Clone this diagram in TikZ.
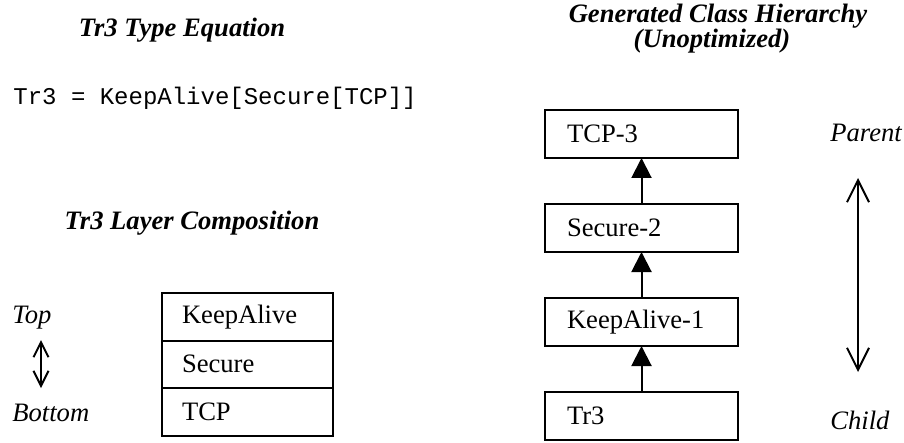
\documentclass[tikz,border=0pt]{standalone}
\usepackage{fontspec}
\setmainfont{Liberation Serif}
\setmonofont{Liberation Mono}
\usetikzlibrary{positioning,arrows.meta}

\tikzset{
  every node/.style={font=\fontsize{13.3}{16}\selectfont},
  heading/.style={font=\fontsize{13.3}{16}\selectfont\bfseries\itshape},
  side/.style={font=\fontsize{13.3}{16}\selectfont\itshape, anchor=west, inner sep=0pt},
  layerbox/.style={draw, line width=1pt, outer sep=0pt, minimum height=23.75pt,
    text width=65.5pt, inner xsep=10pt, align=left},
  classbox/.style={draw, line width=1pt, outer sep=0pt, minimum height=24pt,
    text width=74.5pt, inner xsep=11pt, align=left},
  inherit/.style={line width=1pt, -{Triangle[width=10pt,length=10pt]}},
  updown/.style={line width=1pt, {Straight Barb[width=11pt,length=11pt]}-{Straight Barb[width=11pt,length=11pt]}},
  smallupdown/.style={line width=1pt, {Straight Barb[width=7.5pt,length=7.5pt]}-{Straight Barb[width=7.5pt,length=7.5pt]}}
}

\begin{document}
\begin{tikzpicture}[x=0.5pt,y=-0.5pt]
    \useasboundingbox (0,0) rectangle (904,443);

    % type equation
    \node[heading] (eqtitle) at (182,30) {Tr3 Type Equation};
    \node[anchor=west, inner sep=0pt, font=\ttfamily\fontsize{12}{14}\selectfont] (eq) at (13,98) {Tr3 = KeepAlive[Secure[TCP]]};

    % layer composition
    \node[heading] (laytitle) at (192,223) {Tr3 Layer Composition};
    \node[layerbox, anchor=north west] (lkeep) at (162,293) {KeepAlive};
    \node[layerbox, below=0pt of lkeep] (lsec) {Secure};
    \node[layerbox, below=0pt of lsec] (ltcp) {TCP};

    \node[side] (top) at (12,318) {Top};
    \node[side] (bottom) at (12,413) {Bottom};
    \coordinate (tarr) at (41,340);
    \coordinate (barr) at (41,388);
    \draw[smallupdown] (tarr) -- (barr);

    % class hierarchy
    \node[heading] (hiertitle) at (718,16) {Generated Class Hierarchy};
    \node[heading] (hiersub) at (712,41) {(Unoptimized)};
    \begin{scope}[node distance=23pt]
    \node[classbox, anchor=north west] (ctcp) at (545,110) {TCP-3};
    \node[classbox, below=of ctcp] (csec) {Secure-2};
    \node[classbox, below=of csec] (ckeep) {KeepAlive-1};
    \node[classbox, below=of ckeep] (ctr) {Tr3};
    \end{scope}
    \draw[inherit] (csec) -- (ctcp);
    \draw[inherit] (ckeep) -- (csec);
    \draw[inherit] (ctr) -- (ckeep);

    \node[side] (parent) at (830,133) {Parent};
    \node[side] (child) at (830,420) {Child};
    \coordinate (parr) at (858,178);
    \coordinate (carr) at (858,372);
    \draw[updown] (parr) -- (carr);
\end{tikzpicture}
\end{document}
